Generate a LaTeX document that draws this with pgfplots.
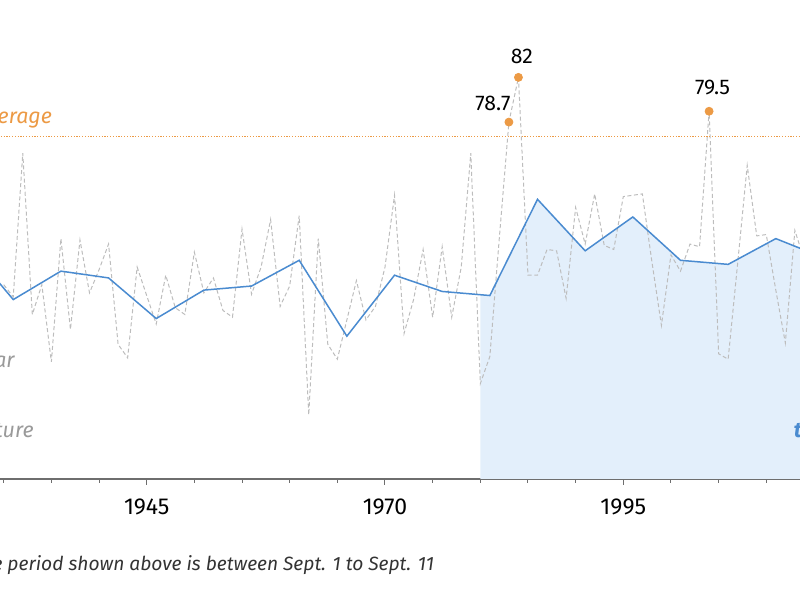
\documentclass[border=0pt]{standalone}
\usepackage{pgfplots}
\pgfplotsset{compat=1.18}
\usepackage{fontspec}
\setmainfont{Fira Sans}

\definecolor{avgorange}{HTML}{EC9A45}
\definecolor{lineblue}{HTML}{4A8BD0}
\definecolor{fillblue}{HTML}{E3EFFB}
\definecolor{yeargray}{HTML}{BDBDBD}
\definecolor{labelgray}{HTML}{9A9A9A}
\definecolor{axisgray}{HTML}{6E6E6E}

% mean temperature, Sept. 1 to Sept. 11, each year
\pgfplotstableread{
year temp
1930 66.7
1931 65.8
1932 76.4
1933 64.5
1934 66.7
1935 61.0
1936 70.1
1937 63.4
1938 70.0
1939 66.1
1940 67.8
1941 69.7
1942 62.3
1943 61.3
1944 68.0
1945 65.9
1946 63.8
1947 67.4
1948 65.0
1949 64.5
1950 69.1
1951 66.1
1952 67.2
1953 64.8
1954 64.3
1955 70.8
1956 66.0
1957 68.0
1958 71.5
1959 65.1
1960 66.6
1961 71.8
1962 57.1
1963 70.1
1964 62.3
1965 61.2
1966 64.1
1967 67.0
1968 64.1
1969 65.1
1970 68.0
1971 73.3
1972 63.1
1973 65.6
1974 69.3
1975 64.3
1976 69.5
1977 64.3
1978 68.0
1979 76.4
1980 59.4
1981 61.4
1982 70.2
1983 78.7
1984 82.0
1985 67.4
1986 67.4
1987 69.3
1988 69.2
1989 65.7
1990 72.4
1991 69.7
1992 73.4
1993 69.6
1994 69.3
1995 73.2
1996 73.3
1997 73.4
1998 68.4
1999 63.7
2000 68.9
2001 67.7
2002 69.7
2003 69.5
2004 79.5
2005 61.6
2006 61.2
2007 68.3
2008 75.5
2009 70.3
2010 70.4
2011 66.3
2012 62.4
2013 70.7
2014 68.5
}\yearly

% five-year average
\pgfplotstableread{
year temp
1926 69.8
1931 65.6
1936 67.7
1941 67.2
1946 64.2
1951 66.3
1956 66.6
1961 68.5
1966 62.9
1971 67.4
1976 66.2
1981 65.9
1986 73.0
1991 69.2
1996 71.7
2001 68.5
2006 68.2
2011 70.1
2016 68.7
}\fiveyear

% above-average peaks
\pgfplotstableread{
year temp
1983 78.7
1984 82.0
2004 79.5
}\peaks

\begin{document}
\begin{tikzpicture}
\useasboundingbox (0,-60.5pt) rectangle (400pt,239.5pt);
\clip (0,-60.5pt) rectangle (400pt,239.5pt);
\begin{axis}[
    at={(0,0)}, anchor=south west,
    scale only axis,
    width=400pt, height=239.5pt,
    xmin=1929.61, xmax=2013.54,
    ymin=52.36, ymax=87.71,
    clip=false,
    axis x line*=bottom,
    axis y line=none,
    x axis line style={axisgray, line width=0.6pt},
    xtick={1945,1970,1995},
    minor xtick={1930,1935,...,2010},
    tick align=outside,
    major tick length=3pt,
    minor tick length=2pt,
    every tick/.style={axisgray, line width=0.5pt},
    xticklabel style={font=\fontsize{11.5}{13}\selectfont, yshift=-3.6pt},
    x tick label style={/pgf/number format/1000 sep={}},
    /pgf/number format/assume math mode=true,
]
% recent period, shaded under the five-year average
\addplot[fill=fillblue, draw=none] coordinates {
    (1980,52.36) (1980,66.0) (1981,65.9) (1986,73.0) (1991,69.2)
    (1996,71.7) (2001,68.5) (2006,68.2) (2011,70.1) (2016,68.7) (2016,52.36)
};
\addplot[yeargray, line width=0.5pt, dash pattern=on 2pt off 1.3pt] table[x=year, y=temp] {\yearly};
\addplot[avgorange, line width=0.5pt, dash pattern=on 0.6pt off 0.8pt] coordinates {(1925,77.65) (2020,77.65)};
\addplot[lineblue, line width=0.75pt] table[x=year, y=temp] {\fiveyear};
\addplot[only marks, mark=*, mark size=2pt, avgorange] table[x=year, y=temp] {\peaks};

\node[anchor=base, font=\fontsize{10.6}{12}\selectfont] at (axis cs:1981.33,79.59) {78.7};
\node[anchor=base, font=\fontsize{10.6}{12}\selectfont] at (axis cs:1984.37,83.04) {82};
\node[anchor=base, font=\fontsize{10.6}{12}\selectfont] at (axis cs:2004.36,80.70) {79.5};
\end{axis}

\node[anchor=base east, text=avgorange, font=\fontsize{10.7}{14}\selectfont\itshape, inner sep=0pt] at (26.15pt,177.85pt) {Average};
\node[anchor=base east, text=labelgray, font=\fontsize{10.7}{14}\selectfont\itshape, inner sep=0pt] at (7.5pt,55.65pt) {Each year};
\node[anchor=base east, text=labelgray, font=\fontsize{10.7}{14}\selectfont\itshape, inner sep=0pt] at (17pt,20.65pt) {Five-year average temperature};
\node[anchor=base west, text=lineblue, font=\fontsize{10.7}{14}\selectfont\bfseries\itshape, inner sep=0pt] at (396.7pt,20.65pt) {the last 35 years};
\node[anchor=base east, text=black!80, font=\fontsize{9.6}{12}\selectfont\itshape, inner sep=0pt] at (217.2pt,-45.85pt) {*The period shown above is between Sept. 1 to Sept. 11};
\end{tikzpicture}
\end{document}
